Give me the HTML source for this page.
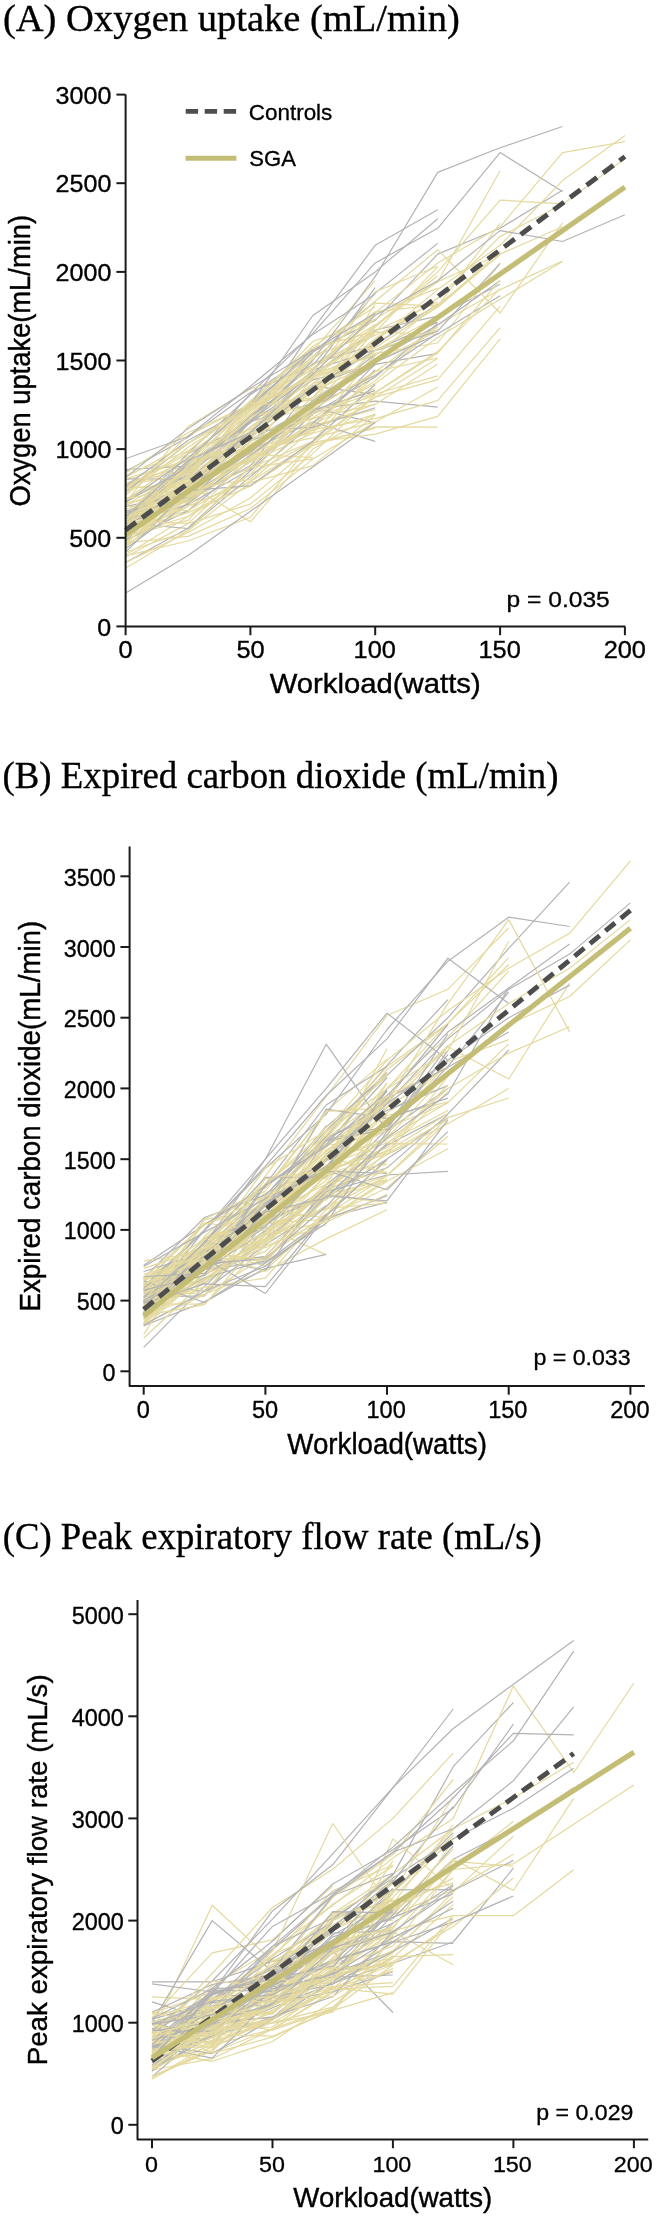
<!DOCTYPE html>
<html><head><meta charset="utf-8"><style>
html,body{margin:0;padding:0;background:#fff;}
svg{display:block;will-change:transform;}
text{font-family:"Liberation Sans", sans-serif;fill:#000;stroke:#000;stroke-width:0.35px;}
.serif{font-family:"Liberation Serif", serif;}
polyline{fill:none;stroke-width:1.2;stroke-linejoin:round;}
</style></head><body>
<svg width="657" height="2218" viewBox="0 0 657 2218">
<rect width="657" height="2218" fill="#fff"/>
<polyline points="125.6,516.5 188.0,484.6 250.4,521.8 312.8,449.1 375.2,413.7" stroke="#e4d99e"/>
<polyline points="125.6,498.7 188.0,471.9 250.4,419.3 312.8,397.7 375.2,325.4 437.7,275.8" stroke="#e4d99e"/>
<polyline points="125.6,513.2 188.0,499.7 250.4,465.8 312.8,385.9 375.2,394.6" stroke="#b3b3b5"/>
<polyline points="125.6,526.8 188.0,511.0 250.4,448.6 312.8,432.5 375.2,375.7" stroke="#e4d99e"/>
<polyline points="125.6,540.4 188.0,510.9 250.4,460.5 312.8,427.1 375.2,364.2" stroke="#b3b3b5"/>
<polyline points="125.6,516.7 188.0,453.2 250.4,394.7 312.8,352.4 375.2,301.5" stroke="#b3b3b5"/>
<polyline points="125.6,562.5 188.0,528.2 250.4,470.8 312.8,414.0 375.2,377.0 437.7,323.5" stroke="#b3b3b5"/>
<polyline points="125.6,525.5 188.0,470.3 250.4,416.2 312.8,398.3 375.2,362.6" stroke="#e4d99e"/>
<polyline points="125.6,524.2 188.0,453.6 250.4,422.7 312.8,379.9 375.2,364.3 437.7,353.4" stroke="#b3b3b5"/>
<polyline points="125.6,518.0 188.0,464.6 250.4,420.3 312.8,351.6 375.2,320.4 437.7,254.1 500.1,228.3 562.5,190.3" stroke="#b3b3b5"/>
<polyline points="125.6,541.3 188.0,502.6 250.4,461.5 312.8,422.2 375.2,380.7 437.7,325.0 500.1,289.6 562.5,261.0" stroke="#e4d99e"/>
<polyline points="125.6,499.7 188.0,468.5 250.4,439.2 312.8,373.3 375.2,355.8" stroke="#e4d99e"/>
<polyline points="125.6,515.6 188.0,482.9 250.4,449.0 312.8,409.5 375.2,401.1 437.7,407.2" stroke="#b3b3b5"/>
<polyline points="125.6,522.8 188.0,504.7 250.4,469.2 312.8,407.9 375.2,423.2" stroke="#b3b3b5"/>
<polyline points="125.6,542.9 188.0,536.4 250.4,508.5 312.8,459.1 375.2,422.0" stroke="#e4d99e"/>
<polyline points="125.6,511.3 188.0,501.2 250.4,441.1 312.8,415.0" stroke="#b3b3b5"/>
<polyline points="125.6,513.8 188.0,472.0 250.4,420.8 312.8,374.6" stroke="#b3b3b5"/>
<polyline points="125.6,520.0 188.0,475.7 250.4,422.5 312.8,329.3 375.2,245.3 437.7,209.8" stroke="#b3b3b5"/>
<polyline points="125.6,487.1 188.0,487.4 250.4,450.4 312.8,437.9 375.2,421.9 437.7,387.1" stroke="#e4d99e"/>
<polyline points="125.6,554.9 188.0,516.4 250.4,481.1 312.8,429.4 375.2,354.5" stroke="#e4d99e"/>
<polyline points="125.6,513.1 188.0,474.3 250.4,416.4 312.8,375.6 375.2,330.0 437.7,316.2 500.1,284.3" stroke="#b3b3b5"/>
<polyline points="125.6,562.4 188.0,532.5 250.4,498.0 312.8,445.3 375.2,426.9 437.7,427.2" stroke="#e4d99e"/>
<polyline points="125.6,504.8 188.0,470.4 250.4,414.4 312.8,365.1 375.2,324.4" stroke="#e4d99e"/>
<polyline points="125.6,480.2 188.0,460.3 250.4,400.6 312.8,346.5 375.2,306.7" stroke="#e4d99e"/>
<polyline points="125.6,526.1 188.0,477.4 250.4,460.2 312.8,425.4 375.2,409.5" stroke="#e4d99e"/>
<polyline points="125.6,506.6 188.0,493.0 250.4,449.9 312.8,422.0 375.2,441.4" stroke="#b3b3b5"/>
<polyline points="125.6,517.8 188.0,498.2 250.4,456.7 312.8,428.2 375.2,403.9" stroke="#e4d99e"/>
<polyline points="125.6,522.1 188.0,481.4 250.4,452.9 312.8,397.4 375.2,343.0 437.7,307.3 500.1,254.1 562.5,226.8" stroke="#e4d99e"/>
<polyline points="125.6,544.2 188.0,483.5 250.4,433.3 312.8,391.5 375.2,362.0 437.7,331.0" stroke="#e4d99e"/>
<polyline points="125.6,469.5 188.0,466.2 250.4,439.9 312.8,406.8" stroke="#b3b3b5"/>
<polyline points="125.6,555.9 188.0,541.0 250.4,517.2 312.8,442.4 375.2,434.1 437.7,416.4 500.1,338.8" stroke="#e4d99e"/>
<polyline points="125.6,478.9 188.0,479.2 250.4,431.4 312.8,370.0 375.2,350.1 437.7,322.1" stroke="#b3b3b5"/>
<polyline points="125.6,515.1 188.0,461.7 250.4,407.1 312.8,368.9 375.2,313.7 437.7,288.1" stroke="#e4d99e"/>
<polyline points="125.6,540.7 188.0,482.1 250.4,421.4 312.8,403.5 375.2,354.2" stroke="#b3b3b5"/>
<polyline points="125.6,532.4 188.0,484.6 250.4,450.5 312.8,405.0 375.2,364.7" stroke="#b3b3b5"/>
<polyline points="125.6,487.9 188.0,460.4 250.4,448.6 312.8,378.6 375.2,353.3 437.7,343.0 500.1,263.5" stroke="#e4d99e"/>
<polyline points="125.6,487.0 188.0,451.8 250.4,429.3 312.8,390.9 375.2,346.7" stroke="#e4d99e"/>
<polyline points="125.6,471.6 188.0,437.2 250.4,392.4 312.8,365.1 375.2,293.1 437.7,243.4" stroke="#b3b3b5"/>
<polyline points="125.6,521.8 188.0,490.6 250.4,421.4 312.8,363.5 375.2,345.1 437.7,304.0" stroke="#b3b3b5"/>
<polyline points="125.6,538.2 188.0,485.3 250.4,453.5 312.8,412.2 375.2,388.6" stroke="#e4d99e"/>
<polyline points="125.6,514.1 188.0,461.6 250.4,444.5 312.8,405.7 375.2,339.6 437.7,298.3" stroke="#e4d99e"/>
<polyline points="125.6,542.0 188.0,496.6 250.4,444.7 312.8,422.5 375.2,371.7 437.7,326.8" stroke="#e4d99e"/>
<polyline points="125.6,483.0 188.0,465.6 250.4,404.9 312.8,400.1" stroke="#e4d99e"/>
<polyline points="125.6,473.1 188.0,432.8 250.4,404.5 312.8,356.7 375.2,332.0 437.7,266.9" stroke="#e4d99e"/>
<polyline points="125.6,494.8 188.0,435.6 250.4,404.4 312.8,397.8 375.2,331.4" stroke="#e4d99e"/>
<polyline points="125.6,522.4 188.0,462.6 250.4,393.9 312.8,333.4 375.2,262.9 437.7,228.3 500.1,152.6 562.5,191.6" stroke="#b3b3b5"/>
<polyline points="125.6,478.8 188.0,459.7 250.4,402.4 312.8,347.6 375.2,331.6" stroke="#e4d99e"/>
<polyline points="125.6,536.0 188.0,516.2 250.4,474.2 312.8,441.6 375.2,397.2 437.7,379.6 500.1,306.2" stroke="#e4d99e"/>
<polyline points="125.6,557.0 188.0,523.6 250.4,504.1 312.8,453.6 375.2,394.0 437.7,375.8" stroke="#e4d99e"/>
<polyline points="125.6,528.0 188.0,494.9 250.4,468.0 312.8,441.3 375.2,369.8" stroke="#e4d99e"/>
<polyline points="125.6,518.9 188.0,477.0 250.4,431.1 312.8,377.7 375.2,332.1 437.7,334.5" stroke="#e4d99e"/>
<polyline points="125.6,515.4 188.0,486.5 250.4,431.3 312.8,427.2 375.2,407.8" stroke="#b3b3b5"/>
<polyline points="125.6,483.3 188.0,469.4 250.4,415.3 312.8,406.3 375.2,303.2 437.7,306.2" stroke="#e4d99e"/>
<polyline points="125.6,505.8 188.0,478.1 250.4,401.9 312.8,369.2 375.2,319.0 437.7,281.7 500.1,254.1" stroke="#e4d99e"/>
<polyline points="125.6,512.0 188.0,501.3 250.4,461.9 312.8,412.4 375.2,355.9 437.7,303.4" stroke="#e4d99e"/>
<polyline points="125.6,484.7 188.0,474.6 250.4,405.2 312.8,364.7 375.2,335.3 437.7,306.2 500.1,223.3" stroke="#e4d99e"/>
<polyline points="125.6,492.0 188.0,443.4 250.4,403.7 312.8,353.2" stroke="#b3b3b5"/>
<polyline points="125.6,523.2 188.0,528.5 250.4,476.6 312.8,423.5 375.2,370.0" stroke="#b3b3b5"/>
<polyline points="125.6,544.9 188.0,506.1 250.4,481.5 312.8,443.0 375.2,428.3" stroke="#e4d99e"/>
<polyline points="125.6,526.5 188.0,486.4 250.4,431.4 312.8,385.7 375.2,362.4 437.7,334.0 500.1,295.7" stroke="#b3b3b5"/>
<polyline points="125.6,489.0 188.0,481.8 250.4,426.6 312.8,404.8" stroke="#e4d99e"/>
<polyline points="125.6,514.6 188.0,487.6 250.4,450.1 312.8,406.3 375.2,375.3 437.7,333.3" stroke="#b3b3b5"/>
<polyline points="125.6,531.6 188.0,512.6 250.4,486.1 312.8,443.9 375.2,396.7" stroke="#e4d99e"/>
<polyline points="125.6,535.8 188.0,520.4 250.4,454.1 312.8,457.5" stroke="#e4d99e"/>
<polyline points="125.6,568.2 188.0,530.4 250.4,482.6 312.8,465.6 375.2,415.0" stroke="#e4d99e"/>
<polyline points="125.6,548.7 188.0,503.2 250.4,457.0 312.8,404.9" stroke="#b3b3b5"/>
<polyline points="125.6,487.5 188.0,453.8 250.4,410.7 312.8,350.3 375.2,280.6" stroke="#e4d99e"/>
<polyline points="125.6,517.2 188.0,475.8 250.4,405.3 312.8,377.7 375.2,291.7 437.7,266.2" stroke="#e4d99e"/>
<polyline points="125.6,502.1 188.0,426.6 250.4,389.1 312.8,368.0 375.2,331.2 437.7,301.8" stroke="#e4d99e"/>
<polyline points="125.6,521.5 188.0,467.9 250.4,418.8 312.8,373.3" stroke="#e4d99e"/>
<polyline points="125.6,511.2 188.0,492.6 250.4,449.3 312.8,411.8 375.2,358.3" stroke="#b3b3b5"/>
<polyline points="125.6,500.0 188.0,455.8 250.4,448.5 312.8,403.5 375.2,360.5" stroke="#e4d99e"/>
<polyline points="125.6,539.0 188.0,487.6 250.4,434.8 312.8,383.6 375.2,362.4" stroke="#e4d99e"/>
<polyline points="125.6,544.0 188.0,488.9 250.4,479.4 312.8,418.3 375.2,404.4 437.7,363.9" stroke="#e4d99e"/>
<polyline points="125.6,502.3 188.0,458.0 250.4,404.8 312.8,315.5 375.2,271.9 437.7,218.7" stroke="#b3b3b5"/>
<polyline points="125.6,516.1 188.0,496.9 250.4,455.3 312.8,410.0 375.2,390.6" stroke="#b3b3b5"/>
<polyline points="125.6,542.3 188.0,498.1 250.4,441.8 312.8,389.5 375.2,338.5 437.7,298.5 500.1,236.4 562.5,204.5 624.9,158.4" stroke="#e4d99e"/>
<polyline points="125.6,547.6 188.0,490.7 250.4,456.6 312.8,414.0 375.2,392.6 437.7,351.6 500.1,288.7" stroke="#e4d99e"/>
<polyline points="125.6,524.3 188.0,470.0 250.4,431.3 312.8,383.5 375.2,341.5 437.7,289.6 500.1,245.3 562.5,180.6 624.9,135.5" stroke="#e4d99e"/>
<polyline points="125.6,486.2 188.0,440.5 250.4,406.9 312.8,349.3" stroke="#b3b3b5"/>
<polyline points="125.6,514.5 188.0,488.5 250.4,441.6 312.8,391.1 375.2,345.5" stroke="#e4d99e"/>
<polyline points="125.6,513.4 188.0,476.8 250.4,462.0 312.8,433.3 375.2,414.4" stroke="#e4d99e"/>
<polyline points="125.6,515.5 188.0,502.0 250.4,451.1 312.8,409.2 375.2,372.6" stroke="#e4d99e"/>
<polyline points="125.6,533.8 188.0,506.2 250.4,445.6 312.8,417.5 375.2,383.6 437.7,337.4 500.1,299.3 562.5,261.4" stroke="#e4d99e"/>
<polyline points="125.6,526.5 188.0,478.9 250.4,407.7 312.8,376.7 375.2,347.7 437.7,306.7 500.1,251.2" stroke="#e4d99e"/>
<polyline points="125.6,518.6 188.0,469.8 250.4,415.5 312.8,371.7 375.2,287.7" stroke="#b3b3b5"/>
<polyline points="125.6,533.3 188.0,493.0 250.4,452.3 312.8,400.6 375.2,360.3 437.7,325.0 500.1,280.7" stroke="#b3b3b5"/>
<polyline points="125.6,552.1 188.0,490.6 250.4,485.6 312.8,441.2 375.2,384.5" stroke="#b3b3b5"/>
<polyline points="125.6,521.0 188.0,523.4 250.4,467.3 312.8,458.8" stroke="#e4d99e"/>
<polyline points="125.6,515.4 188.0,469.9 250.4,418.8 312.8,370.8 375.2,312.6 437.7,263.0 500.1,226.8 562.5,152.6 624.9,141.7" stroke="#e4d99e"/>
<polyline points="125.6,477.5 188.0,443.6 250.4,404.9 312.8,341.5 375.2,319.4" stroke="#e4d99e"/>
<polyline points="125.6,529.2 188.0,465.6 250.4,412.6 312.8,356.2 375.2,301.2 437.7,249.7 500.1,313.0 562.5,222.9" stroke="#e4d99e"/>
<polyline points="125.6,525.9 188.0,483.2 250.4,435.9 312.8,389.4 375.2,327.2 437.7,271.9 500.1,200.1 562.5,203.8" stroke="#e4d99e"/>
<polyline points="125.6,500.3 188.0,472.5 250.4,414.9 312.8,359.0 375.2,311.7 437.7,304.9 500.1,254.7" stroke="#e4d99e"/>
<polyline points="125.6,502.3 188.0,466.9 250.4,422.5 312.8,360.5 375.2,276.6 437.7,172.4 500.1,147.8 562.5,126.5" stroke="#b3b3b5"/>
<polyline points="125.6,552.3 188.0,530.8 250.4,466.8 312.8,409.4 375.2,371.4 437.7,358.0" stroke="#e4d99e"/>
<polyline points="125.6,512.9 188.0,491.0 250.4,436.4 312.8,387.3 375.2,350.6 437.7,331.1 500.1,263.4" stroke="#b3b3b5"/>
<polyline points="125.6,509.0 188.0,496.4 250.4,458.7 312.8,430.2 375.2,397.3 437.7,358.2" stroke="#e4d99e"/>
<polyline points="125.6,506.0 188.0,510.7 250.4,474.2 312.8,407.1 375.2,350.4 437.7,316.2" stroke="#e4d99e"/>
<polyline points="125.6,531.5 188.0,484.9 250.4,427.3 312.8,375.8 375.2,325.2 437.7,281.8 500.1,170.8" stroke="#e4d99e"/>
<polyline points="125.6,498.5 188.0,489.2 250.4,409.1 312.8,374.3 375.2,333.9" stroke="#e4d99e"/>
<polyline points="125.6,475.2 188.0,451.0 250.4,402.7 312.8,407.9 375.2,350.1 437.7,329.5" stroke="#e4d99e"/>
<polyline points="125.6,520.4 188.0,466.5 250.4,427.2 312.8,386.7 375.2,345.6" stroke="#e4d99e"/>
<polyline points="125.6,517.4 188.0,485.2 250.4,460.5 312.8,424.8 375.2,392.7 437.7,353.0 500.1,280.1" stroke="#e4d99e"/>
<polyline points="125.6,495.1 188.0,447.6 250.4,406.8 312.8,359.1 375.2,312.6" stroke="#e4d99e"/>
<polyline points="125.6,593.1 188.0,555.5 250.4,511.2 312.8,466.9 375.2,422.5" stroke="#b3b3b5"/>
<polyline points="125.6,477.4 188.0,428.6 250.4,388.0 312.8,350.4 375.2,313.2" stroke="#b3b3b5"/>
<polyline points="125.6,502.8 188.0,494.0 250.4,433.4 312.8,418.8 375.2,395.0" stroke="#e4d99e"/>
<polyline points="125.6,516.7 188.0,460.5 250.4,432.7 312.8,374.1 375.2,315.2 437.7,280.7 500.1,230.6 562.5,241.5 624.9,214.8" stroke="#b3b3b5"/>
<polyline points="125.6,490.0 188.0,443.2 250.4,409.5 312.8,376.7 375.2,354.8" stroke="#e4d99e"/>
<polyline points="125.6,546.5 188.0,498.9 250.4,457.0 312.8,429.7 375.2,418.7 437.7,400.7 500.1,327.6" stroke="#e4d99e"/>
<polyline points="125.6,458.8 188.0,436.5 250.4,386.1 312.8,334.4 375.2,294.0" stroke="#b3b3b5"/>
<line x1="125.6" y1="535.1" x2="624.9" y2="187.1" stroke="#c4bd76" stroke-width="5.2"/>
<line x1="125.6" y1="530.1" x2="624.9" y2="156.6" stroke="#4d4d4d" stroke-width="4.9" stroke-dasharray="13 7.56"/>
<path d="M125.6,94.6 V626.4 H625.2" fill="none" stroke="#1a1a1a" stroke-width="2" stroke-linejoin="round"/>
<line x1="116.39999999999999" y1="626.4" x2="125.6" y2="626.4" stroke="#1a1a1a" stroke-width="2"/>
<line x1="116.39999999999999" y1="537.8" x2="125.6" y2="537.8" stroke="#1a1a1a" stroke-width="2"/>
<line x1="116.39999999999999" y1="449.1" x2="125.6" y2="449.1" stroke="#1a1a1a" stroke-width="2"/>
<line x1="116.39999999999999" y1="360.5" x2="125.6" y2="360.5" stroke="#1a1a1a" stroke-width="2"/>
<line x1="116.39999999999999" y1="271.9" x2="125.6" y2="271.9" stroke="#1a1a1a" stroke-width="2"/>
<line x1="116.39999999999999" y1="183.2" x2="125.6" y2="183.2" stroke="#1a1a1a" stroke-width="2"/>
<line x1="116.39999999999999" y1="94.6" x2="125.6" y2="94.6" stroke="#1a1a1a" stroke-width="2"/>
<line x1="125.6" y1="626.4" x2="125.6" y2="635.1999999999999" stroke="#1a1a1a" stroke-width="2"/>
<line x1="250.4" y1="626.4" x2="250.4" y2="635.1999999999999" stroke="#1a1a1a" stroke-width="2"/>
<line x1="375.2" y1="626.4" x2="375.2" y2="635.1999999999999" stroke="#1a1a1a" stroke-width="2"/>
<line x1="500.1" y1="626.4" x2="500.1" y2="635.1999999999999" stroke="#1a1a1a" stroke-width="2"/>
<line x1="624.9" y1="626.4" x2="624.9" y2="635.1999999999999" stroke="#1a1a1a" stroke-width="2"/>
<line x1="185.7" y1="111.3" x2="236.4" y2="111.3" stroke="#4d4d4d" stroke-width="4.8" stroke-dasharray="12.4 6.6"/>
<line x1="185.5" y1="158.2" x2="236.4" y2="158.2" stroke="#c4bd76" stroke-width="4.9"/>
<polyline points="143.7,1305.3 204.5,1242.2 265.4,1219.6 326.2,1197.9 387.0,1158.9 447.9,1117.4" stroke="#b3b3b5"/>
<polyline points="143.7,1287.7 204.5,1256.3 265.4,1217.4 326.2,1154.6 387.0,1107.2" stroke="#b3b3b5"/>
<polyline points="143.7,1300.8 204.5,1238.4 265.4,1193.0 326.2,1166.6 387.0,1122.6 447.9,1061.3" stroke="#e4d99e"/>
<polyline points="143.7,1307.7 204.5,1282.9 265.4,1240.8 326.2,1189.6 387.0,1167.9 447.9,1114.6" stroke="#b3b3b5"/>
<polyline points="143.7,1294.2 204.5,1275.2 265.4,1238.4 326.2,1188.8 387.0,1129.4 447.9,1045.7" stroke="#b3b3b5"/>
<polyline points="143.7,1320.1 204.5,1273.9 265.4,1251.4 326.2,1195.7 387.0,1202.5" stroke="#e4d99e"/>
<polyline points="143.7,1278.3 204.5,1245.1 265.4,1185.6 326.2,1147.1 387.0,1100.3" stroke="#e4d99e"/>
<polyline points="143.7,1279.5 204.5,1255.7 265.4,1219.9 326.2,1150.0 387.0,1115.5 447.9,1102.1" stroke="#e4d99e"/>
<polyline points="143.7,1347.3 204.5,1286.4 265.4,1229.9 326.2,1187.4 387.0,1145.0" stroke="#b3b3b5"/>
<polyline points="143.7,1306.4 204.5,1254.5 265.4,1222.3 326.2,1172.3 387.0,1112.7 447.9,1074.3 508.7,1024.8 569.6,996.5 630.4,939.9" stroke="#e4d99e"/>
<polyline points="143.7,1311.3 204.5,1259.7 265.4,1175.8 326.2,1096.5 387.0,1015.5 447.9,989.3 508.7,927.9" stroke="#e4d99e"/>
<polyline points="143.7,1296.8 204.5,1295.8 265.4,1221.7 326.2,1194.8 387.0,1159.8" stroke="#b3b3b5"/>
<polyline points="143.7,1315.3 204.5,1294.3 265.4,1270.1 326.2,1214.5 387.0,1176.3" stroke="#e4d99e"/>
<polyline points="143.7,1291.4 204.5,1265.9 265.4,1227.4 326.2,1139.7 387.0,1126.3 447.9,1054.7" stroke="#b3b3b5"/>
<polyline points="143.7,1278.2 204.5,1217.5 265.4,1194.9 326.2,1136.8 387.0,1065.3 447.9,999.6" stroke="#b3b3b5"/>
<polyline points="143.7,1284.1 204.5,1291.1 265.4,1244.7 326.2,1205.8" stroke="#b3b3b5"/>
<polyline points="143.7,1278.7 204.5,1250.9 265.4,1262.0 326.2,1197.9 387.0,1175.5 447.9,1117.6 508.7,1098.0" stroke="#e4d99e"/>
<polyline points="143.7,1301.4 204.5,1259.4 265.4,1257.4 326.2,1214.0 387.0,1160.6" stroke="#e4d99e"/>
<polyline points="143.7,1321.9 204.5,1260.6 265.4,1219.8 326.2,1155.2 387.0,1122.7" stroke="#e4d99e"/>
<polyline points="143.7,1303.2 204.5,1263.3 265.4,1205.9 326.2,1150.7" stroke="#e4d99e"/>
<polyline points="143.7,1282.8 204.5,1269.8 265.4,1223.4 326.2,1219.3 387.0,1179.3" stroke="#e4d99e"/>
<polyline points="143.7,1314.2 204.5,1258.1 265.4,1198.9 326.2,1130.7 387.0,1072.4" stroke="#b3b3b5"/>
<polyline points="143.7,1282.4 204.5,1224.1 265.4,1191.0 326.2,1111.1 387.0,1059.1" stroke="#e4d99e"/>
<polyline points="143.7,1324.9 204.5,1219.3 265.4,1210.5 326.2,1161.4 387.0,1048.7" stroke="#e4d99e"/>
<polyline points="143.7,1298.1 204.5,1247.1 265.4,1183.7 326.2,1135.5 387.0,1066.5 447.9,1023.4 508.7,957.7" stroke="#e4d99e"/>
<polyline points="143.7,1317.9 204.5,1257.6 265.4,1212.5 326.2,1199.8 387.0,1143.6 447.9,1144.0" stroke="#e4d99e"/>
<polyline points="143.7,1286.9 204.5,1249.9 265.4,1242.5 326.2,1198.5 387.0,1181.4" stroke="#e4d99e"/>
<polyline points="143.7,1274.3 204.5,1257.6 265.4,1205.3 326.2,1159.5 387.0,1088.1 447.9,1037.4 508.7,971.2" stroke="#e4d99e"/>
<polyline points="143.7,1315.1 204.5,1261.7 265.4,1224.4 326.2,1189.2 387.0,1145.3 447.9,1113.9 508.7,1050.0" stroke="#b3b3b5"/>
<polyline points="143.7,1300.4 204.5,1259.1 265.4,1222.9 326.2,1145.7 387.0,1069.6 447.9,1024.2" stroke="#e4d99e"/>
<polyline points="143.7,1288.1 204.5,1295.0 265.4,1209.6 326.2,1218.0 387.0,1113.2" stroke="#e4d99e"/>
<polyline points="143.7,1316.7 204.5,1246.9 265.4,1195.8 326.2,1126.9 387.0,1075.4 447.9,1017.7 508.7,948.4 569.6,882.1" stroke="#b3b3b5"/>
<polyline points="143.7,1313.0 204.5,1254.6 265.4,1234.9 326.2,1175.1 387.0,1088.6 447.9,1023.4 508.7,964.5" stroke="#e4d99e"/>
<polyline points="143.7,1326.6 204.5,1274.4 265.4,1223.0 326.2,1180.4 387.0,1106.8 447.9,1047.0 508.7,1079.0 569.6,983.1" stroke="#e4d99e"/>
<polyline points="143.7,1307.0 204.5,1237.7 265.4,1222.0 326.2,1153.5 387.0,1095.3 447.9,1068.3" stroke="#e4d99e"/>
<polyline points="143.7,1293.3 204.5,1257.3 265.4,1270.3 326.2,1185.0 387.0,1135.3 447.9,1050.7" stroke="#b3b3b5"/>
<polyline points="143.7,1296.0 204.5,1269.8 265.4,1231.0 326.2,1167.1 387.0,1099.1 447.9,1024.5" stroke="#b3b3b5"/>
<polyline points="143.7,1288.9 204.5,1230.9 265.4,1168.2 326.2,1114.1 387.0,1029.5 447.9,961.2 508.7,917.2 569.6,926.5" stroke="#b3b3b5"/>
<polyline points="143.7,1300.6 204.5,1244.0 265.4,1159.2 326.2,1044.2 387.0,1130.9 447.9,1088.4" stroke="#b3b3b5"/>
<polyline points="143.7,1292.9 204.5,1263.4 265.4,1232.2 326.2,1192.2 387.0,1134.0 447.9,1061.7 508.7,1039.6" stroke="#e4d99e"/>
<polyline points="143.7,1307.7 204.5,1229.9 265.4,1159.2 326.2,1088.4 387.0,1013.1 447.9,1060.2" stroke="#b3b3b5"/>
<polyline points="143.7,1313.8 204.5,1260.4 265.4,1226.8 326.2,1254.9" stroke="#e4d99e"/>
<polyline points="143.7,1301.9 204.5,1290.1 265.4,1234.2 326.2,1191.9 387.0,1154.6 447.9,1123.8 508.7,1088.4" stroke="#e4d99e"/>
<polyline points="143.7,1295.4 204.5,1252.8 265.4,1206.8 326.2,1111.8" stroke="#e4d99e"/>
<polyline points="143.7,1302.6 204.5,1243.5 265.4,1215.4 326.2,1165.2 387.0,1142.7 447.9,1110.5" stroke="#e4d99e"/>
<polyline points="143.7,1276.6 204.5,1283.0 265.4,1238.5 326.2,1160.6 387.0,1140.5" stroke="#e4d99e"/>
<polyline points="143.7,1325.7 204.5,1301.9 265.4,1268.3 326.2,1254.4" stroke="#b3b3b5"/>
<polyline points="143.7,1280.1 204.5,1239.1 265.4,1217.6 326.2,1175.1 387.0,1164.2" stroke="#e4d99e"/>
<polyline points="143.7,1322.7 204.5,1269.6 265.4,1241.8 326.2,1174.9 387.0,1138.9 447.9,1102.6 508.7,1043.9" stroke="#e4d99e"/>
<polyline points="143.7,1334.4 204.5,1241.5 265.4,1196.3 326.2,1175.2 387.0,1098.1 447.9,1067.5" stroke="#e4d99e"/>
<polyline points="143.7,1286.4 204.5,1229.9 265.4,1166.2 326.2,1095.5 387.0,1038.9 447.9,958.2 508.7,1003.6" stroke="#b3b3b5"/>
<polyline points="143.7,1303.1 204.5,1287.2 265.4,1278.1 326.2,1209.7 387.0,1151.4 447.9,1113.4" stroke="#e4d99e"/>
<polyline points="143.7,1282.4 204.5,1223.6 265.4,1206.2 326.2,1160.4 387.0,1130.1" stroke="#e4d99e"/>
<polyline points="143.7,1300.8 204.5,1265.1 265.4,1256.3 326.2,1191.6 387.0,1175.0 447.9,1171.3" stroke="#b3b3b5"/>
<polyline points="143.7,1324.0 204.5,1294.6 265.4,1256.4 326.2,1194.4 387.0,1179.9" stroke="#e4d99e"/>
<polyline points="143.7,1284.6 204.5,1269.0 265.4,1262.6 326.2,1217.5 387.0,1202.3" stroke="#b3b3b5"/>
<polyline points="143.7,1304.2 204.5,1259.9 265.4,1238.8 326.2,1208.6 387.0,1175.8 447.9,1121.9" stroke="#e4d99e"/>
<polyline points="143.7,1303.9 204.5,1265.6 265.4,1212.6 326.2,1157.1 387.0,1096.6" stroke="#e4d99e"/>
<polyline points="143.7,1298.1 204.5,1269.1 265.4,1184.3 326.2,1105.0 387.0,1066.2" stroke="#b3b3b5"/>
<polyline points="143.7,1303.9 204.5,1304.1 265.4,1245.8 326.2,1224.7" stroke="#e4d99e"/>
<polyline points="143.7,1312.8 204.5,1236.3 265.4,1184.3 326.2,1130.2 387.0,1060.4 447.9,1010.7 508.7,968.2 569.6,933.3 630.4,860.9" stroke="#e4d99e"/>
<polyline points="143.7,1324.0 204.5,1273.0 265.4,1240.7 326.2,1206.6 387.0,1167.8" stroke="#e4d99e"/>
<polyline points="143.7,1318.5 204.5,1280.3 265.4,1235.4 326.2,1187.5" stroke="#e4d99e"/>
<polyline points="143.7,1281.2 204.5,1249.7 265.4,1265.8 326.2,1218.0 387.0,1187.8 447.9,1136.3" stroke="#e4d99e"/>
<polyline points="143.7,1311.2 204.5,1251.3 265.4,1271.3 326.2,1238.9 387.0,1209.7" stroke="#e4d99e"/>
<polyline points="143.7,1308.6 204.5,1241.6 265.4,1186.5 326.2,1140.0 387.0,1103.1 447.9,1038.9 508.7,989.4 569.6,954.1 630.4,902.9" stroke="#b3b3b5"/>
<polyline points="143.7,1278.7 204.5,1249.9 265.4,1200.9 326.2,1143.4 387.0,1154.9 447.9,1076.2" stroke="#e4d99e"/>
<polyline points="143.7,1301.0 204.5,1277.7 265.4,1245.9 326.2,1185.1 387.0,1150.6" stroke="#e4d99e"/>
<polyline points="143.7,1289.4 204.5,1252.4 265.4,1205.0 326.2,1137.9 387.0,1110.4 447.9,1085.6" stroke="#b3b3b5"/>
<polyline points="143.7,1265.3 204.5,1224.7 265.4,1186.3 326.2,1144.7 387.0,1077.5" stroke="#b3b3b5"/>
<polyline points="143.7,1314.0 204.5,1267.7 265.4,1218.4 326.2,1160.2 387.0,1137.9 447.9,1073.3" stroke="#e4d99e"/>
<polyline points="143.7,1292.8 204.5,1269.4 265.4,1214.2 326.2,1125.0" stroke="#e4d99e"/>
<polyline points="143.7,1289.6 204.5,1262.0 265.4,1201.0 326.2,1171.2 387.0,1150.9 447.9,1091.6" stroke="#e4d99e"/>
<polyline points="143.7,1318.7 204.5,1249.6 265.4,1224.1 326.2,1208.5 387.0,1203.2" stroke="#e4d99e"/>
<polyline points="143.7,1260.9 204.5,1252.2 265.4,1211.8 326.2,1132.6 387.0,1075.9" stroke="#e4d99e"/>
<polyline points="143.7,1297.0 204.5,1249.8 265.4,1202.5 326.2,1169.6 387.0,1091.0" stroke="#b3b3b5"/>
<polyline points="143.7,1311.7 204.5,1278.0 265.4,1260.4 326.2,1195.6 387.0,1200.8 447.9,1119.7" stroke="#b3b3b5"/>
<polyline points="143.7,1312.9 204.5,1259.4 265.4,1198.1 326.2,1141.1 387.0,1129.1 447.9,1033.8" stroke="#b3b3b5"/>
<polyline points="143.7,1271.5 204.5,1252.7 265.4,1210.6 326.2,1109.2 387.0,1118.4 447.9,1098.1" stroke="#b3b3b5"/>
<polyline points="143.7,1317.5 204.5,1264.4 265.4,1212.3 326.2,1160.3 387.0,1103.7 447.9,1060.2 508.7,1017.7 569.6,985.1" stroke="#b3b3b5"/>
<polyline points="143.7,1338.3 204.5,1280.7 265.4,1243.0 326.2,1190.0 387.0,1144.1 447.9,1088.4 508.7,1053.1 569.6,1026.8" stroke="#e4d99e"/>
<polyline points="143.7,1301.5 204.5,1238.3 265.4,1215.8 326.2,1167.0 387.0,1127.7 447.9,1103.0" stroke="#e4d99e"/>
<polyline points="143.7,1280.7 204.5,1302.5 265.4,1263.0 326.2,1223.3 387.0,1131.0 447.9,1066.4 508.7,992.0" stroke="#b3b3b5"/>
<polyline points="143.7,1306.0 204.5,1246.9 265.4,1214.5 326.2,1184.2 387.0,1098.6" stroke="#e4d99e"/>
<polyline points="143.7,1303.2 204.5,1283.9 265.4,1286.6 326.2,1214.0" stroke="#b3b3b5"/>
<polyline points="143.7,1302.1 204.5,1219.2 265.4,1188.3 326.2,1111.4 387.0,1107.8 447.9,1066.7" stroke="#e4d99e"/>
<polyline points="143.7,1300.7 204.5,1255.9 265.4,1226.2 326.2,1171.1 387.0,1173.5" stroke="#b3b3b5"/>
<polyline points="143.7,1325.3 204.5,1291.3 265.4,1266.2 326.2,1219.4 387.0,1195.6" stroke="#b3b3b5"/>
<polyline points="143.7,1284.9 204.5,1247.4 265.4,1199.4 326.2,1138.1 387.0,1073.6" stroke="#e4d99e"/>
<polyline points="143.7,1300.6 204.5,1258.2 265.4,1293.5 326.2,1215.7 387.0,1159.2" stroke="#b3b3b5"/>
<polyline points="143.7,1290.0 204.5,1240.3 265.4,1221.2 326.2,1170.9 387.0,1147.9 447.9,1084.9" stroke="#e4d99e"/>
<polyline points="143.7,1315.6 204.5,1304.6 265.4,1234.4 326.2,1222.1 387.0,1194.2" stroke="#e4d99e"/>
<polyline points="143.7,1268.4 204.5,1248.1 265.4,1247.7 326.2,1219.7 387.0,1181.2 447.9,1148.7" stroke="#e4d99e"/>
<polyline points="143.7,1307.7 204.5,1279.6 265.4,1232.7 326.2,1159.5 387.0,1083.1" stroke="#e4d99e"/>
<polyline points="143.7,1302.4 204.5,1223.0 265.4,1230.5 326.2,1195.1 387.0,1117.8" stroke="#e4d99e"/>
<polyline points="143.7,1313.2 204.5,1257.4 265.4,1204.3 326.2,1158.8 387.0,1098.5 447.9,1067.2 508.7,1031.9" stroke="#b3b3b5"/>
<polyline points="143.7,1310.1 204.5,1247.0 265.4,1240.5 326.2,1184.0 387.0,1172.0" stroke="#e4d99e"/>
<polyline points="143.7,1284.6 204.5,1258.4 265.4,1216.5 326.2,1157.2 387.0,1172.6" stroke="#e4d99e"/>
<polyline points="143.7,1309.8 204.5,1263.8 265.4,1258.5 326.2,1206.3 387.0,1143.4" stroke="#b3b3b5"/>
<polyline points="143.7,1285.5 204.5,1251.8 265.4,1167.9 326.2,1131.1 387.0,1089.0 447.9,1050.8 508.7,941.3" stroke="#e4d99e"/>
<polyline points="143.7,1301.6 204.5,1242.2 265.4,1177.4 326.2,1177.0 387.0,1089.4" stroke="#b3b3b5"/>
<polyline points="143.7,1289.6 204.5,1248.7 265.4,1217.8 326.2,1138.2 387.0,1095.5" stroke="#e4d99e"/>
<polyline points="143.7,1277.9 204.5,1225.0 265.4,1196.0 326.2,1178.1 387.0,1083.3" stroke="#e4d99e"/>
<polyline points="143.7,1266.6 204.5,1232.2 265.4,1198.8 326.2,1170.5 387.0,1189.8 447.9,1131.6" stroke="#b3b3b5"/>
<polyline points="143.7,1315.9 204.5,1259.8 265.4,1212.4 326.2,1145.9 387.0,1101.9 447.9,1003.6 508.7,919.6 569.6,1031.9" stroke="#e4d99e"/>
<polyline points="143.7,1292.3 204.5,1269.6 265.4,1205.8 326.2,1174.7 387.0,1153.7 447.9,1119.1" stroke="#e4d99e"/>
<polyline points="143.7,1303.1 204.5,1266.1 265.4,1205.1 326.2,1166.6 387.0,1095.6 447.9,1031.9 508.7,988.0 569.6,943.9" stroke="#b3b3b5"/>
<polyline points="143.7,1299.0 204.5,1263.4 265.4,1178.8 326.2,1170.9 387.0,1095.9" stroke="#e4d99e"/>
<polyline points="143.7,1276.5 204.5,1273.4 265.4,1211.8 326.2,1198.0 387.0,1137.7 447.9,1093.7 508.7,987.8" stroke="#b3b3b5"/>
<polyline points="143.7,1310.0 204.5,1267.9 265.4,1200.6 326.2,1151.2 387.0,1101.8 447.9,1046.0 508.7,1003.6 569.6,968.2 630.4,919.6" stroke="#e4d99e"/>
<polyline points="143.7,1316.6 204.5,1252.6 265.4,1259.9 326.2,1198.1" stroke="#e4d99e"/>
<polyline points="143.7,1290.2 204.5,1275.3 265.4,1185.0 326.2,1146.5 387.0,1091.4" stroke="#b3b3b5"/>
<line x1="143.7" y1="1315.9" x2="630.4" y2="928.3" stroke="#c4bd76" stroke-width="5.2"/>
<line x1="143.7" y1="1309.4" x2="630.4" y2="910.4" stroke="#4d4d4d" stroke-width="4.9" stroke-dasharray="12.5 7.4"/>
<path d="M129.6,846.4 V1385.9 H644.8" fill="none" stroke="#1a1a1a" stroke-width="2" stroke-linejoin="round"/>
<line x1="120.39999999999999" y1="1371.3" x2="129.6" y2="1371.3" stroke="#1a1a1a" stroke-width="2"/>
<line x1="120.39999999999999" y1="1300.6" x2="129.6" y2="1300.6" stroke="#1a1a1a" stroke-width="2"/>
<line x1="120.39999999999999" y1="1229.9" x2="129.6" y2="1229.9" stroke="#1a1a1a" stroke-width="2"/>
<line x1="120.39999999999999" y1="1159.2" x2="129.6" y2="1159.2" stroke="#1a1a1a" stroke-width="2"/>
<line x1="120.39999999999999" y1="1088.4" x2="129.6" y2="1088.4" stroke="#1a1a1a" stroke-width="2"/>
<line x1="120.39999999999999" y1="1017.7" x2="129.6" y2="1017.7" stroke="#1a1a1a" stroke-width="2"/>
<line x1="120.39999999999999" y1="947.0" x2="129.6" y2="947.0" stroke="#1a1a1a" stroke-width="2"/>
<line x1="120.39999999999999" y1="876.3" x2="129.6" y2="876.3" stroke="#1a1a1a" stroke-width="2"/>
<line x1="143.7" y1="1385.9" x2="143.7" y2="1394.7" stroke="#1a1a1a" stroke-width="2"/>
<line x1="265.4" y1="1385.9" x2="265.4" y2="1394.7" stroke="#1a1a1a" stroke-width="2"/>
<line x1="387.0" y1="1385.9" x2="387.0" y2="1394.7" stroke="#1a1a1a" stroke-width="2"/>
<line x1="508.7" y1="1385.9" x2="508.7" y2="1394.7" stroke="#1a1a1a" stroke-width="2"/>
<line x1="630.4" y1="1385.9" x2="630.4" y2="1394.7" stroke="#1a1a1a" stroke-width="2"/>
<polyline points="152.0,2063.0 212.2,2002.9 272.5,1995.5 332.7,1921.5" stroke="#b3b3b5"/>
<polyline points="152.0,2045.7 212.2,1998.8 272.5,1955.3 332.7,1904.2 392.9,1866.2" stroke="#e4d99e"/>
<polyline points="152.0,1981.8 212.2,1981.8 272.5,1961.4 332.7,1951.2 392.9,2012.5" stroke="#b3b3b5"/>
<polyline points="152.0,2071.4 212.2,2008.9 272.5,1972.0 332.7,1913.5 392.9,1874.3 453.2,1828.7 513.4,1798.0 573.7,1762.3" stroke="#e4d99e"/>
<polyline points="152.0,2070.8 212.2,2032.7 272.5,1989.3 332.7,1953.4 392.9,1914.6 453.2,1889.9 513.4,1854.2" stroke="#e4d99e"/>
<polyline points="152.0,2024.6 212.2,2010.3 272.5,1972.0 332.7,1919.9 392.9,1875.1 453.2,1766.7 513.4,1702.5" stroke="#b3b3b5"/>
<polyline points="152.0,2052.8 212.2,1998.6 272.5,1966.7 332.7,1933.2 392.9,1930.6" stroke="#b3b3b5"/>
<polyline points="152.0,2041.1 212.2,2020.8 272.5,1986.2 332.7,1912.6 392.9,1920.7" stroke="#e4d99e"/>
<polyline points="152.0,2061.2 212.2,2020.6 272.5,2030.1 332.7,2009.3 392.9,1937.9" stroke="#e4d99e"/>
<polyline points="152.0,2044.3 212.2,1985.5 272.5,1949.6 332.7,1905.5 392.9,1858.1 453.2,1818.4 513.4,1686.1 573.7,1772.5 633.9,1683.0" stroke="#e4d99e"/>
<polyline points="152.0,2023.0 212.2,2036.8 272.5,1991.6 332.7,1915.9 392.9,1900.9 453.2,1882.9" stroke="#e4d99e"/>
<polyline points="152.0,2028.3 212.2,2034.1 272.5,2007.8 332.7,1983.1 392.9,1963.3 453.2,1942.0 513.4,1868.2" stroke="#b3b3b5"/>
<polyline points="152.0,1996.8 212.2,1999.7 272.5,1965.3 332.7,1928.2 392.9,1903.8 453.2,1824.5" stroke="#e4d99e"/>
<polyline points="152.0,2017.6 212.2,1952.9 272.5,1939.9 332.7,1886.1" stroke="#e4d99e"/>
<polyline points="152.0,2057.1 212.2,2029.5 272.5,1977.3 332.7,1942.2 392.9,1910.9 453.2,1868.7 513.4,1821.3" stroke="#e4d99e"/>
<polyline points="152.0,2066.2 212.2,2041.8 272.5,2019.7 332.7,1970.8 392.9,1957.8 453.2,1904.6" stroke="#e4d99e"/>
<polyline points="152.0,2032.9 212.2,1905.2 272.5,1961.4 332.7,1930.8 392.9,1900.1" stroke="#e4d99e"/>
<polyline points="152.0,2057.4 212.2,1988.2 272.5,1941.3 332.7,1884.0 392.9,1849.7 453.2,1808.2 513.4,1724.2" stroke="#b3b3b5"/>
<polyline points="152.0,2049.3 212.2,2008.6 272.5,1949.3 332.7,1895.5 392.9,1873.2" stroke="#b3b3b5"/>
<polyline points="152.0,2052.0 212.2,2021.6 272.5,2017.9 332.7,1987.5 392.9,1964.7" stroke="#e4d99e"/>
<polyline points="152.0,2036.9 212.2,2013.7 272.5,1992.6 332.7,1934.7 392.9,1903.8" stroke="#b3b3b5"/>
<polyline points="152.0,2055.8 212.2,2029.2 272.5,2004.5 332.7,1952.2 392.9,1891.6 453.2,1829.5" stroke="#e4d99e"/>
<polyline points="152.0,2045.0 212.2,1993.9 272.5,1973.2 332.7,1949.4 392.9,1897.4 453.2,1838.3" stroke="#e4d99e"/>
<polyline points="152.0,2039.1 212.2,2031.3 272.5,1975.0 332.7,1952.0 392.9,1860.9" stroke="#e4d99e"/>
<polyline points="152.0,2030.8 212.2,1981.0 272.5,1919.2 332.7,1853.8 392.9,1787.6 453.2,1728.5 513.4,1684.3 573.7,1640.4" stroke="#b3b3b5"/>
<polyline points="152.0,2020.8 212.2,2043.8 272.5,1986.9 332.7,1977.0 392.9,1975.0" stroke="#b3b3b5"/>
<polyline points="152.0,2051.3 212.2,2017.2 272.5,1985.7 332.7,1931.1" stroke="#e4d99e"/>
<polyline points="152.0,2036.1 212.2,2026.2 272.5,1990.0 332.7,1975.8 392.9,1961.8 453.2,1926.5 513.4,1878.0" stroke="#e4d99e"/>
<polyline points="152.0,2001.9 212.2,2020.8 272.5,1993.4 332.7,1920.5 392.9,1889.9 453.2,1889.7" stroke="#b3b3b5"/>
<polyline points="152.0,2056.0 212.2,2023.9 272.5,2022.7 332.7,2007.2 392.9,1955.3" stroke="#e4d99e"/>
<polyline points="152.0,2064.7 212.2,2028.7 272.5,1993.3 332.7,1936.9 392.9,1918.5 453.2,1859.3 513.4,1828.7 573.7,1787.8" stroke="#b3b3b5"/>
<polyline points="152.0,2067.5 212.2,2028.0 272.5,2023.1 332.7,2012.2 392.9,1935.0 453.2,1869.4" stroke="#e4d99e"/>
<polyline points="152.0,2038.4 212.2,2023.1 272.5,1973.7 332.7,1897.2 392.9,1854.6 453.2,1779.5" stroke="#e4d99e"/>
<polyline points="152.0,2069.7 212.2,2036.0 272.5,2002.8 332.7,1977.1 392.9,1915.1 453.2,1846.1" stroke="#b3b3b5"/>
<polyline points="152.0,2067.2 212.2,2045.3 272.5,2029.0 332.7,1992.7 392.9,1952.7 453.2,1892.1 513.4,1836.1" stroke="#e4d99e"/>
<polyline points="152.0,2053.1 212.2,2029.1 272.5,1995.8 332.7,1945.3" stroke="#e4d99e"/>
<polyline points="152.0,2039.1 212.2,2009.4 272.5,1993.0 332.7,1973.8 392.9,1963.8" stroke="#e4d99e"/>
<polyline points="152.0,1983.9 212.2,1992.0 272.5,2002.3 332.7,1992.0 392.9,1971.6" stroke="#b3b3b5"/>
<polyline points="152.0,2012.3 212.2,1984.5 272.5,1974.6 332.7,1942.1 392.9,1892.4 453.2,1832.7" stroke="#b3b3b5"/>
<polyline points="152.0,2057.9 212.2,2026.2 272.5,2004.1 332.7,1966.2 392.9,1936.5" stroke="#e4d99e"/>
<polyline points="152.0,2059.3 212.2,2036.5 272.5,1970.3 332.7,1946.4 392.9,1904.7 453.2,1869.5 513.4,1863.8 573.7,1824.3 633.9,1785.0" stroke="#e4d99e"/>
<polyline points="152.0,2061.0 212.2,2005.7 272.5,2005.5 332.7,1970.9 392.9,1922.9 453.2,1884.4" stroke="#b3b3b5"/>
<polyline points="152.0,2070.0 212.2,2058.7 272.5,2029.2 332.7,1991.1 392.9,1956.7 453.2,1954.7" stroke="#e4d99e"/>
<polyline points="152.0,2047.5 212.2,2037.1 272.5,2019.2 332.7,1989.2 392.9,1933.2" stroke="#e4d99e"/>
<polyline points="152.0,2060.4 212.2,2035.8 272.5,2017.5 332.7,1968.6" stroke="#b3b3b5"/>
<polyline points="152.0,2022.7 212.2,1920.6 272.5,1971.6 332.7,1930.8 392.9,1879.7" stroke="#b3b3b5"/>
<polyline points="152.0,2056.2 212.2,2028.0 272.5,2005.9 332.7,1972.7 392.9,1931.8 453.2,1964.8" stroke="#e4d99e"/>
<polyline points="152.0,2076.2 212.2,2049.7 272.5,1997.1 332.7,1977.4 392.9,1924.4" stroke="#e4d99e"/>
<polyline points="152.0,2047.5 212.2,2031.1 272.5,2019.7 332.7,1987.9 392.9,1971.1" stroke="#e4d99e"/>
<polyline points="152.0,2043.1 212.2,2012.5 272.5,1951.2 332.7,1823.5 392.9,1910.3 453.2,1849.1" stroke="#e4d99e"/>
<polyline points="152.0,2017.4 212.2,1999.5 272.5,1957.3 332.7,1890.8 392.9,1865.0" stroke="#e4d99e"/>
<polyline points="152.0,2013.3 212.2,1992.1 272.5,1976.9 332.7,1949.4 392.9,1936.1" stroke="#e4d99e"/>
<polyline points="152.0,2047.0 212.2,2015.5 272.5,1982.7 332.7,1983.3 392.9,1905.2" stroke="#e4d99e"/>
<polyline points="152.0,2021.7 212.2,2005.8 272.5,1968.2 332.7,1925.1 392.9,1890.0" stroke="#e4d99e"/>
<polyline points="152.0,2046.9 212.2,2021.3 272.5,1978.6 332.7,1947.4 392.9,1888.3" stroke="#b3b3b5"/>
<polyline points="152.0,2052.6 212.2,2031.9 272.5,2019.0 332.7,1981.5 392.9,1958.2" stroke="#e4d99e"/>
<polyline points="152.0,2033.4 212.2,2047.8 272.5,2017.6 332.7,1979.3 392.9,1952.7" stroke="#e4d99e"/>
<polyline points="152.0,2023.9 212.2,2008.3 272.5,1985.6 332.7,1961.4 392.9,1941.6 453.2,1943.4" stroke="#b3b3b5"/>
<polyline points="152.0,2053.3 212.2,2022.7 272.5,1992.0 332.7,1971.6 392.9,1838.9 453.2,1889.9" stroke="#e4d99e"/>
<polyline points="152.0,2065.9 212.2,2023.5 272.5,2016.8 332.7,1996.8 392.9,1931.6" stroke="#b3b3b5"/>
<polyline points="152.0,2037.0 212.2,1973.5 272.5,1907.5 332.7,1869.3 392.9,1818.4 453.2,1753.1" stroke="#e4d99e"/>
<polyline points="152.0,2059.3 212.2,2038.0 272.5,2004.7 332.7,1963.4 392.9,1930.6 453.2,1915.7 513.4,1915.7 573.7,1869.8" stroke="#e4d99e"/>
<polyline points="152.0,2047.4 212.2,2001.3 272.5,1946.2 332.7,1918.3 392.9,1878.1 453.2,1838.9 513.4,1808.2 573.7,1768.3" stroke="#b3b3b5"/>
<polyline points="152.0,2076.6 212.2,2025.9 272.5,2005.3 332.7,1952.8 392.9,1931.6 453.2,1890.5 513.4,1860.4" stroke="#b3b3b5"/>
<polyline points="152.0,2059.4 212.2,2052.8 272.5,2028.6 332.7,2008.4" stroke="#e4d99e"/>
<polyline points="152.0,2046.0 212.2,2058.2 272.5,1997.4 332.7,1984.1 392.9,1951.4 453.2,1918.3" stroke="#b3b3b5"/>
<polyline points="152.0,2030.9 212.2,1992.7 272.5,1910.9 332.7,1864.8 392.9,1787.8 453.2,1709.0" stroke="#b3b3b5"/>
<polyline points="152.0,2051.4 212.2,1990.1 272.5,1991.3 332.7,1972.4 392.9,1910.0" stroke="#b3b3b5"/>
<polyline points="152.0,2049.2 212.2,2010.1 272.5,1946.4 332.7,1894.9 392.9,1847.1 453.2,1792.7 513.4,1740.8 573.7,1651.1" stroke="#b3b3b5"/>
<polyline points="152.0,2019.1 212.2,2002.4 272.5,1958.8 332.7,1921.8" stroke="#b3b3b5"/>
<polyline points="152.0,2071.0 212.2,2025.5 272.5,1970.2 332.7,1896.0 392.9,1852.3 453.2,1828.7 513.4,1780.7 573.7,1706.8" stroke="#b3b3b5"/>
<polyline points="152.0,2079.1 212.2,2042.4 272.5,2022.7 332.7,1989.0 392.9,1986.3 453.2,1914.9" stroke="#e4d99e"/>
<polyline points="152.0,2014.1 212.2,2007.7 272.5,1994.5 332.7,1952.0" stroke="#e4d99e"/>
<polyline points="152.0,2040.5 212.2,2008.2 272.5,1964.3 332.7,1914.7 392.9,1881.4" stroke="#e4d99e"/>
<polyline points="152.0,2044.6 212.2,2053.6 272.5,2019.3 332.7,1981.9 392.9,1942.3 453.2,1922.1 513.4,1896.0" stroke="#b3b3b5"/>
<polyline points="152.0,2056.5 212.2,2013.7 272.5,2000.7 332.7,1996.6 392.9,1958.3" stroke="#e4d99e"/>
<polyline points="152.0,2058.6 212.2,2020.3 272.5,1997.6 332.7,1973.4 392.9,1951.3" stroke="#b3b3b5"/>
<polyline points="152.0,2040.1 212.2,2016.7 272.5,2011.7 332.7,1968.1 392.9,1876.5" stroke="#e4d99e"/>
<polyline points="152.0,2031.2 212.2,1998.3 272.5,2002.6 332.7,1945.5 392.9,1928.7 453.2,1840.9" stroke="#e4d99e"/>
<polyline points="152.0,2054.1 212.2,2000.4 272.5,1975.8 332.7,1953.6 392.9,1913.2 453.2,1859.3 513.4,1890.5 573.7,1798.4" stroke="#e4d99e"/>
<polyline points="152.0,2059.0 212.2,2027.4 272.5,1996.4 332.7,1951.7 392.9,1892.3" stroke="#e4d99e"/>
<polyline points="152.0,2069.4 212.2,2041.0 272.5,1998.6 332.7,1971.5 392.9,1963.9 453.2,1923.0" stroke="#e4d99e"/>
<polyline points="152.0,2040.2 212.2,1995.1 272.5,1969.0 332.7,1941.1 392.9,1881.5 453.2,1806.5" stroke="#b3b3b5"/>
<polyline points="152.0,2018.5 212.2,1988.7 272.5,1986.0 332.7,1947.3 392.9,1932.6 453.2,1885.9" stroke="#b3b3b5"/>
<polyline points="152.0,2024.7 212.2,2008.2 272.5,2012.7 332.7,1957.4 392.9,1893.2" stroke="#e4d99e"/>
<polyline points="152.0,2033.4 212.2,1994.1 272.5,1976.4 332.7,1939.9 392.9,1917.4 453.2,1893.8" stroke="#b3b3b5"/>
<polyline points="152.0,2025.7 212.2,2033.3 272.5,2013.0 332.7,1968.7 392.9,1965.3" stroke="#e4d99e"/>
<polyline points="152.0,2056.9 212.2,2029.3 272.5,2001.3 332.7,1941.2" stroke="#e4d99e"/>
<polyline points="152.0,2076.4 212.2,2051.3 272.5,1992.2 332.7,1918.7 392.9,1900.5" stroke="#e4d99e"/>
<polyline points="152.0,2056.9 212.2,2034.5 272.5,2036.2 332.7,2010.4 392.9,1992.6" stroke="#e4d99e"/>
<polyline points="152.0,2031.6 212.2,2044.5 272.5,1968.3 332.7,1962.9" stroke="#e4d99e"/>
<polyline points="152.0,2044.2 212.2,2034.8 272.5,2005.6 332.7,1979.0 392.9,1950.5 453.2,1896.7" stroke="#e4d99e"/>
<polyline points="152.0,2050.7 212.2,2061.3 272.5,2041.5 332.7,2001.3 392.9,1968.3" stroke="#e4d99e"/>
<polyline points="152.0,2067.9 212.2,2028.1 272.5,2027.0 332.7,1985.3" stroke="#e4d99e"/>
<polyline points="152.0,2033.8 212.2,1981.0 272.5,1985.9 332.7,1920.6 392.9,1892.4 453.2,1796.7" stroke="#e4d99e"/>
<polyline points="152.0,2078.6 212.2,2046.6 272.5,2009.5 332.7,1986.6 392.9,1982.7" stroke="#e4d99e"/>
<polyline points="152.0,2030.4 212.2,2031.3 272.5,1984.7 332.7,1960.4 392.9,1941.7 453.2,1901.1" stroke="#b3b3b5"/>
<polyline points="152.0,2021.7 212.2,2053.2 272.5,2037.2 332.7,2009.1 392.9,1965.0" stroke="#e4d99e"/>
<polyline points="152.0,2066.3 212.2,1997.1 272.5,1997.1 332.7,1942.4 392.9,1909.1 453.2,1878.1" stroke="#e4d99e"/>
<polyline points="152.0,2043.5 212.2,2031.6 272.5,1978.3 332.7,1968.0 392.9,1945.9 453.2,1869.4" stroke="#e4d99e"/>
<polyline points="152.0,2049.2 212.2,2046.3 272.5,1977.6 332.7,1987.8 392.9,1994.2 453.2,1918.2" stroke="#e4d99e"/>
<polyline points="152.0,2031.1 212.2,2022.2 272.5,2003.9 332.7,1948.7 392.9,1923.2" stroke="#b3b3b5"/>
<polyline points="152.0,2012.7 212.2,2024.6 272.5,1954.6 332.7,1928.8 392.9,1883.6" stroke="#e4d99e"/>
<polyline points="152.0,2040.0 212.2,2023.9 272.5,1985.5 332.7,1911.7 392.9,1912.8" stroke="#b3b3b5"/>
<polyline points="152.0,2057.2 212.2,1994.9 272.5,1973.9 332.7,1927.7 392.9,1874.0" stroke="#b3b3b5"/>
<polyline points="152.0,2054.5 212.2,2040.3 272.5,1959.7 332.7,1981.8 392.9,1892.9 453.2,1835.6" stroke="#e4d99e"/>
<polyline points="152.0,2058.9 212.2,1992.5 272.5,1978.9 332.7,1966.2 392.9,1910.1" stroke="#b3b3b5"/>
<polyline points="152.0,2031.4 212.2,2043.8 272.5,2020.3 332.7,1959.0 392.9,1908.4" stroke="#e4d99e"/>
<polyline points="152.0,2024.2 212.2,2014.9 272.5,1988.8 332.7,1974.5 392.9,1937.6 453.2,1908.2" stroke="#b3b3b5"/>
<polyline points="152.0,2024.0 212.2,2001.3 272.5,1994.7 332.7,1961.7 392.9,1908.0" stroke="#b3b3b5"/>
<polyline points="152.0,2068.5 212.2,2025.7 272.5,2006.1 332.7,1942.7 392.9,1927.2 453.2,1861.3 513.4,1866.3" stroke="#e4d99e"/>
<polyline points="152.0,2044.5 212.2,1993.4 272.5,1926.4 332.7,1893.0 392.9,1852.5 453.2,1798.0 513.4,1733.3 573.7,1734.8" stroke="#b3b3b5"/>
<polyline points="152.0,2039.2 212.2,2011.1 272.5,2013.7 332.7,1961.5 392.9,1898.1" stroke="#e4d99e"/>
<polyline points="152.0,2033.7 212.2,2019.7 272.5,2013.8 332.7,1951.1 392.9,1930.3" stroke="#e4d99e"/>
<line x1="152.0" y1="2061.0" x2="573.7" y2="1753.5" stroke="#4d4d4d" stroke-width="4.9" stroke-dasharray="13 6.92"/>
<line x1="152.0" y1="2057.8" x2="633.9" y2="1752.3" stroke="#c4bd76" stroke-width="5.2"/>
<path d="M137.5,1600 V2139.4 H648.2" fill="none" stroke="#1a1a1a" stroke-width="2" stroke-linejoin="round"/>
<line x1="128.3" y1="2124.8" x2="137.5" y2="2124.8" stroke="#1a1a1a" stroke-width="2"/>
<line x1="128.3" y1="2022.7" x2="137.5" y2="2022.7" stroke="#1a1a1a" stroke-width="2"/>
<line x1="128.3" y1="1920.6" x2="137.5" y2="1920.6" stroke="#1a1a1a" stroke-width="2"/>
<line x1="128.3" y1="1818.4" x2="137.5" y2="1818.4" stroke="#1a1a1a" stroke-width="2"/>
<line x1="128.3" y1="1716.3" x2="137.5" y2="1716.3" stroke="#1a1a1a" stroke-width="2"/>
<line x1="128.3" y1="1614.2" x2="137.5" y2="1614.2" stroke="#1a1a1a" stroke-width="2"/>
<line x1="152.0" y1="2139.4" x2="152.0" y2="2148.2000000000003" stroke="#1a1a1a" stroke-width="2"/>
<line x1="272.5" y1="2139.4" x2="272.5" y2="2148.2000000000003" stroke="#1a1a1a" stroke-width="2"/>
<line x1="392.9" y1="2139.4" x2="392.9" y2="2148.2000000000003" stroke="#1a1a1a" stroke-width="2"/>
<line x1="513.4" y1="2139.4" x2="513.4" y2="2148.2000000000003" stroke="#1a1a1a" stroke-width="2"/>
<line x1="633.9" y1="2139.4" x2="633.9" y2="2148.2000000000003" stroke="#1a1a1a" stroke-width="2"/>
<text class="serif" transform="translate(2.92,31.33) scale(1.0144,1.0145)" font-size="38.0">(A) Oxygen uptake (mL/min)</text>
<text transform="translate(269.71,693.21) scale(1.1714,1.1226)" font-size="25.0">Workload(watts)</text>
<text transform="translate(30.11,506.57) rotate(-90) scale(1.0939,1.2172)" font-size="25.0">Oxygen uptake(mL/min)</text>
<text transform="translate(506.48,606.97) scale(0.9848,0.9011)" font-size="25.0">p = 0.035</text>
<text transform="translate(248.78,119.88) scale(0.8978,0.8932)" font-size="25.0">Controls</text>
<text transform="translate(249.30,165.88) scale(0.8835,0.8845)" font-size="25.0">SGA</text>
<text class="serif" transform="translate(2.51,788.14) scale(0.9686,0.9956)" font-size="38.0">(B) Expired carbon dioxide (mL/min)</text>
<text transform="translate(287.27,1453.65) scale(1.1088,1.1527)" font-size="25.0">Workload(watts)</text>
<text transform="translate(39.66,1311.51) rotate(-90) scale(1.1070,1.1699)" font-size="25.0">Expired carbon dioxide(mL/min)</text>
<text transform="translate(533.38,1365.46) scale(0.9275,0.8835)" font-size="25.0">p = 0.033</text>
<text class="serif" transform="translate(2.71,1548.57) scale(0.9658,0.9857)" font-size="38.0">(C) Peak expiratory flow rate (mL/s)</text>
<text transform="translate(293.32,2206.92) scale(1.1052,1.1398)" font-size="25.0">Workload(watts)</text>
<text transform="translate(46.76,2065.32) rotate(-90) scale(1.1081,1.1312)" font-size="25.0">Peak expiratory flow rate (mL/s)</text>
<text transform="translate(536.28,2119.56) scale(0.9255,0.8835)" font-size="25.0">p = 0.029</text>
<text transform="translate(97.18,635.57) scale(1.0019,0.9465)" font-size="25.0">0</text>
<text transform="translate(69.37,546.94) scale(1.0019,0.9465)" font-size="25.0">500</text>
<text transform="translate(55.60,458.30) scale(1.0019,0.9465)" font-size="25.0">1000</text>
<text transform="translate(55.60,369.67) scale(1.0019,0.9465)" font-size="25.0">1500</text>
<text transform="translate(55.60,281.03) scale(1.0019,0.9465)" font-size="25.0">2000</text>
<text transform="translate(55.60,192.40) scale(1.0019,0.9465)" font-size="25.0">2500</text>
<text transform="translate(55.60,103.76) scale(1.0019,0.9465)" font-size="25.0">3000</text>
<text transform="translate(118.54,657.57) scale(1.0152,0.9352)" font-size="25.0">0</text>
<text transform="translate(236.39,657.57) scale(1.0152,0.9352)" font-size="25.0">50</text>
<text transform="translate(353.60,657.57) scale(1.0152,0.9352)" font-size="25.0">100</text>
<text transform="translate(478.43,657.57) scale(1.0152,0.9352)" font-size="25.0">150</text>
<text transform="translate(603.63,657.57) scale(1.0152,0.9352)" font-size="25.0">200</text>
<text transform="translate(102.57,1380.87) scale(0.9327,0.9408)" font-size="25.0">0</text>
<text transform="translate(76.69,1310.15) scale(0.9327,0.9408)" font-size="25.0">500</text>
<text transform="translate(63.87,1239.44) scale(0.9327,0.9408)" font-size="25.0">1000</text>
<text transform="translate(63.87,1168.72) scale(0.9327,0.9408)" font-size="25.0">1500</text>
<text transform="translate(63.87,1098.01) scale(0.9327,0.9408)" font-size="25.0">2000</text>
<text transform="translate(63.87,1027.29) scale(0.9327,0.9408)" font-size="25.0">2500</text>
<text transform="translate(63.87,956.58) scale(0.9327,0.9408)" font-size="25.0">3000</text>
<text transform="translate(63.87,885.86) scale(0.9327,0.9408)" font-size="25.0">3500</text>
<text transform="translate(136.71,1418.27) scale(0.9418,0.9239)" font-size="25.0">0</text>
<text transform="translate(251.91,1418.27) scale(0.9418,0.9239)" font-size="25.0">50</text>
<text transform="translate(366.52,1418.27) scale(0.9418,0.9239)" font-size="25.0">100</text>
<text transform="translate(488.19,1418.27) scale(0.9418,0.9239)" font-size="25.0">150</text>
<text transform="translate(610.22,1418.27) scale(0.9418,0.9239)" font-size="25.0">200</text>
<text transform="translate(110.68,2134.26) scale(0.9402,0.9465)" font-size="25.0">0</text>
<text transform="translate(71.66,2032.14) scale(0.9402,0.9465)" font-size="25.0">1000</text>
<text transform="translate(71.66,1930.02) scale(0.9402,0.9465)" font-size="25.0">2000</text>
<text transform="translate(71.66,1827.90) scale(0.9402,0.9465)" font-size="25.0">3000</text>
<text transform="translate(71.66,1725.78) scale(0.9402,0.9465)" font-size="25.0">4000</text>
<text transform="translate(71.66,1623.66) scale(0.9402,0.9465)" font-size="25.0">5000</text>
<text transform="translate(144.88,2171.58) scale(0.9316,0.8901)" font-size="25.0">0</text>
<text transform="translate(258.95,2171.58) scale(0.9316,0.8901)" font-size="25.0">50</text>
<text transform="translate(372.44,2171.58) scale(0.9316,0.8901)" font-size="25.0">100</text>
<text transform="translate(492.91,2171.58) scale(0.9316,0.8901)" font-size="25.0">150</text>
<text transform="translate(613.74,2171.58) scale(0.9316,0.8901)" font-size="25.0">200</text>
</svg></body></html>
